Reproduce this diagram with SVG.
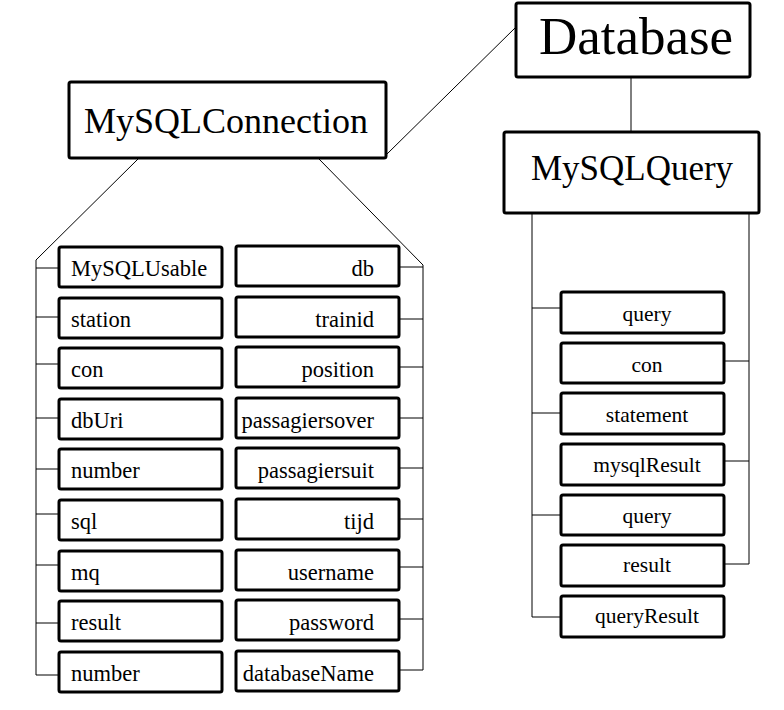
<svg xmlns="http://www.w3.org/2000/svg" width="784" height="710" viewBox="0 0 784 710">
<style>
.box{fill:#fff;stroke:#000;stroke-width:3;}
.ln{fill:none;stroke:#000;stroke-width:1;}
text{font-family:"Liberation Serif","DejaVu Serif","Times New Roman",serif;fill:#000;}
.s{font-size:22.5px;}
.l{text-anchor:start;}
.r{text-anchor:end;}
.c{text-anchor:middle;}
.q{font-size:21.5px;text-anchor:middle;}
</style>
<rect width="784" height="710" fill="#fff"/>
<g id="connectors" class="ln">
<line x1="387" y1="154" x2="516" y2="27"/>
<line x1="631" y1="77" x2="631" y2="132"/>
<polyline points="138,159 36,260 36,675"/>
<polyline points="319,159 423,265 423,670"/>
<line x1="36" y1="268" x2="59" y2="268"/>
<line x1="36" y1="317" x2="59" y2="317"/>
<line x1="36" y1="364" x2="59" y2="364"/>
<line x1="36" y1="418" x2="59" y2="418"/>
<line x1="36" y1="469" x2="59" y2="469"/>
<line x1="36" y1="514" x2="59" y2="514"/>
<line x1="36" y1="565" x2="59" y2="565"/>
<line x1="36" y1="623" x2="59" y2="623"/>
<line x1="36" y1="675" x2="59" y2="675"/>
<line x1="399" y1="267" x2="423" y2="267"/>
<line x1="399" y1="319" x2="423" y2="319"/>
<line x1="399" y1="367" x2="423" y2="367"/>
<line x1="399" y1="418" x2="423" y2="418"/>
<line x1="399" y1="468" x2="423" y2="468"/>
<line x1="399" y1="519" x2="423" y2="519"/>
<line x1="399" y1="567" x2="423" y2="567"/>
<line x1="399" y1="619" x2="423" y2="619"/>
<line x1="399" y1="670" x2="423" y2="670"/>
<polyline points="532,213 532,617 561,617"/>
<line x1="532" y1="308" x2="561" y2="308"/>
<line x1="532" y1="413" x2="561" y2="413"/>
<line x1="532" y1="515" x2="561" y2="515"/>
<polyline points="749,213 749,564 724,564"/>
<line x1="724" y1="361" x2="749" y2="361"/>
<line x1="724" y1="461" x2="749" y2="461"/>
</g>
<g id="database"><rect class="box" x="516" y="3" width="234" height="74" rx="2"/><text x="636" y="54" class="c" font-size="53">Database</text></g>
<g id="mysqlconnection"><rect class="box" x="69" y="82" width="317" height="76" rx="2"/><text x="226" y="133" class="c" font-size="36">MySQLConnection</text></g>
<g id="mysqlquery"><rect class="box" x="504" y="132" width="255" height="81" rx="2"/><text x="632" y="180" class="c" font-size="35">MySQLQuery</text></g>
<g id="l1"><rect class="box" x="59" y="247" width="163" height="40" rx="2"/><text x="71" y="276" class="s l">MySQLUsable</text></g>
<g id="l2"><rect class="box" x="59" y="298" width="163" height="40" rx="2"/><text x="71" y="327" class="s l">station</text></g>
<g id="l3"><rect class="box" x="59" y="348" width="163" height="40" rx="2"/><text x="71" y="377" class="s l">con</text></g>
<g id="l4"><rect class="box" x="59" y="399" width="163" height="40" rx="2"/><text x="71" y="428" class="s l">dbUri</text></g>
<g id="l5"><rect class="box" x="59" y="449" width="163" height="40" rx="2"/><text x="71" y="478" class="s l">number</text></g>
<g id="l6"><rect class="box" x="59" y="500" width="163" height="40" rx="2"/><text x="71" y="529" class="s l">sql</text></g>
<g id="l7"><rect class="box" x="59" y="551" width="163" height="40" rx="2"/><text x="71" y="580" class="s l">mq</text></g>
<g id="l8"><rect class="box" x="59" y="601" width="163" height="40" rx="2"/><text x="71" y="630" class="s l">result</text></g>
<g id="l9"><rect class="box" x="59" y="652" width="163" height="40" rx="2"/><text x="71" y="681" class="s l">number</text></g>
<g id="r1"><rect class="box" x="236" y="246" width="163" height="40" rx="2"/><text x="374" y="276" class="s r">db</text></g>
<g id="r2"><rect class="box" x="236" y="297" width="163" height="40" rx="2"/><text x="374" y="327" class="s r">trainid</text></g>
<g id="r3"><rect class="box" x="236" y="347" width="163" height="40" rx="2"/><text x="374" y="377" class="s r">position</text></g>
<g id="r4"><rect class="box" x="236" y="398" width="163" height="40" rx="2"/><text x="374" y="428" class="s r">passagiersover</text></g>
<g id="r5"><rect class="box" x="236" y="448" width="163" height="40" rx="2"/><text x="374" y="478" class="s r">passagiersuit</text></g>
<g id="r6"><rect class="box" x="236" y="499" width="163" height="40" rx="2"/><text x="374" y="529" class="s r">tijd</text></g>
<g id="r7"><rect class="box" x="236" y="550" width="163" height="40" rx="2"/><text x="374" y="580" class="s r">username</text></g>
<g id="r8"><rect class="box" x="236" y="600" width="163" height="40" rx="2"/><text x="374" y="630" class="s r">password</text></g>
<g id="r9"><rect class="box" x="236" y="651" width="163" height="40" rx="2"/><text x="374" y="681" class="s r">databaseName</text></g>
<g id="q1"><rect class="box" x="561" y="292" width="163" height="41" rx="2"/><text x="647" y="321" class="q">query</text></g>
<g id="q2"><rect class="box" x="561" y="343" width="163" height="40" rx="2"/><text x="647" y="372" class="q">con</text></g>
<g id="q3"><rect class="box" x="561" y="393" width="163" height="41" rx="2"/><text x="647" y="422" class="q">statement</text></g>
<g id="q4"><rect class="box" x="561" y="444" width="163" height="41" rx="2"/><text x="647" y="472" class="q">mysqlResult</text></g>
<g id="q5"><rect class="box" x="561" y="495" width="163" height="40" rx="2"/><text x="647" y="523" class="q">query</text></g>
<g id="q6"><rect class="box" x="561" y="545" width="163" height="41" rx="2"/><text x="647" y="572" class="q">result</text></g>
<g id="q7"><rect class="box" x="561" y="596" width="163" height="41" rx="2"/><text x="647" y="623" class="q">queryResult</text></g>
</svg>
